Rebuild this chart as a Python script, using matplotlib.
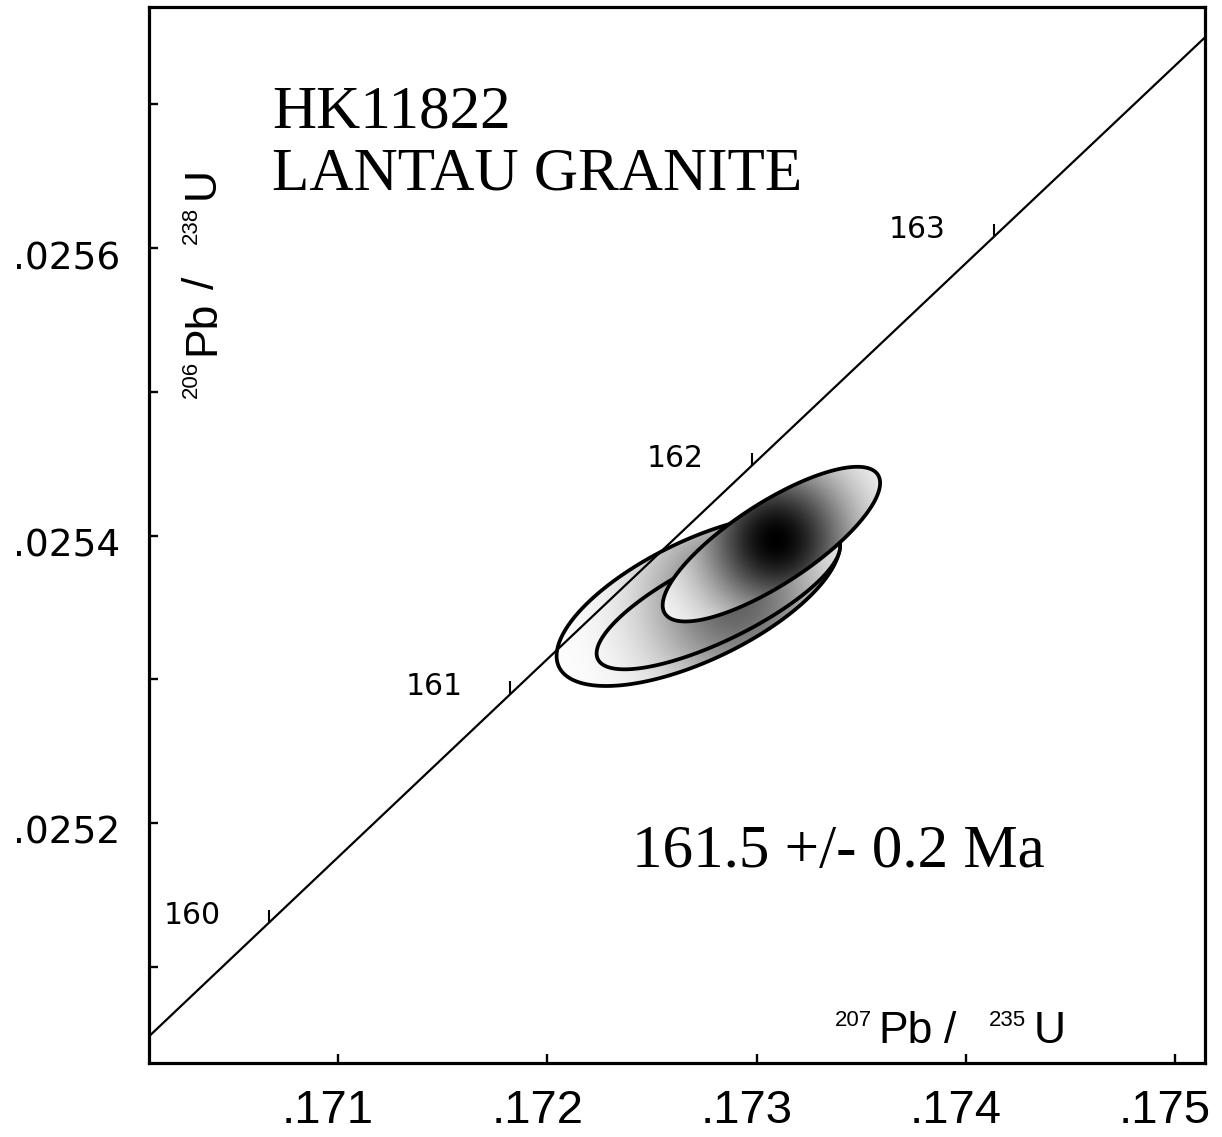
import numpy as np
import matplotlib
matplotlib.use("Agg")
import matplotlib.pyplot as plt
from matplotlib import font_manager
from matplotlib.patches import Polygon
from matplotlib.transforms import ScaledTranslation

# ---------------- data ----------------
X_TICKS = [0.171, 0.172, 0.173, 0.174, 0.175]
X_TICK_LABELS = [".171", ".172", ".173", ".174", ".175"]
Y_MAJOR_TICKS = [0.0252, 0.0254, 0.0256]
Y_TICK_LABELS = [".0252", ".0254", ".0256"]
Y_MINOR_TICKS = [0.0251, 0.0253, 0.0255, 0.0257]
X_LIM = (0.170097, 0.175143)
Y_LIM = (0.025033, 0.0257677)

# concordia (U-Pb decay constants, 1/yr) and age marks in Ma
LAMBDA_238 = 1.55125e-10
LAMBDA_235 = 9.8485e-10
CONCORDIA_AGE_RANGE = (158.0, 166.0)
CONCORDIA_TICK_AGES = [160, 161, 162, 163]

# analyses: centre, half-extent of the error ellipse, error correlation
ELL_X = [0.1727219, 0.1728175, 0.1730710]
ELL_XERR = [0.0006772, 0.0005816, 0.0005195]
ELL_Y = [0.0253551, 0.0253551, 0.0253940]
ELL_YERR = [0.0000598, 0.0000482, 0.0000538]
ELL_RHO = [0.65, 0.77, 0.79]

# shading centres of the ellipses
GRAD_X = [0.1728973, 0.1728973, 0.1730930]
GRAD_Y = [0.0253551, 0.0253551, 0.0253969]

TITLE_1 = "HK11822"
TITLE_2 = "LANTAU GRANITE"
AGE_TEXT = "161.5 +/- 0.2 Ma"
X_TITLE = ["207", "Pb", "/", "235", "U"]
Y_TITLE = ["206", "Pb", "/", "238", "U"]

# ---------------- style ----------------
GRAD_SIGMA_PX = [62, 62, 54]
GRAD_MAX = [0.62, 0.62, 1.0]


def have(name):
    try:
        font_manager.findfont(font_manager.FontProperties(family=name),
                              fallback_to_default=False)
        return True
    except Exception:
        return False


NARROW = "Liberation Sans Narrow" if have("Liberation Sans Narrow") else "Liberation Sans"
GEO = "DejaVu Sans"
SERIF = "Liberation Serif"

W, H, DPI = 1222, 1137, 100
fig = plt.figure(figsize=(W / DPI, H / DPI), dpi=DPI)
fig.patch.set_facecolor("white")
L, R, T, B = 149, 1205, 7, 1063
ax = fig.add_axes([L / W, 1 - B / H, (R - L) / W, (B - T) / H])
ax.set_xlim(X_LIM)
ax.set_ylim(Y_LIM)


def fig_px(x, y):
    return (x / W, 1 - y / H)


# ---------------- ellipses with shading ----------------
nx, ny = R - L, B - T
jj = np.arange(nx) + 0.5 + L
ii = np.arange(ny) + 0.5 + (H - B)
XD, YD = np.meshgrid(jj, ii)

theta = np.linspace(0, 2 * np.pi, 721)
for k in range(len(ELL_X)):
    x0, y0, sx, sy, rho = ELL_X[k], ELL_Y[k], ELL_XERR[k], ELL_YERR[k], ELL_RHO[k]
    ex = x0 + sx * np.cos(theta)
    ey = y0 + sy * (rho * np.cos(theta) + np.sqrt(1 - rho ** 2) * np.sin(theta))
    z = 2 + k * 0.5
    gx, gy = ax.transData.transform((GRAD_X[k], GRAD_Y[k]))
    D = GRAD_MAX[k] * np.exp(-((XD - gx) ** 2 + (YD - gy) ** 2) / (2 * GRAD_SIGMA_PX[k] ** 2))
    g = 1 - D
    rgb = np.dstack([g, g, g])
    im = ax.imshow(rgb, extent=(X_LIM[0], X_LIM[1], Y_LIM[0], Y_LIM[1]),
                   origin="lower", aspect="auto", interpolation="bilinear", zorder=z)
    patch = Polygon(np.column_stack([ex, ey]), closed=True, facecolor="none",
                    edgecolor="black", lw=2.7, zorder=z + 0.1)
    ax.add_patch(patch)
    im.set_clip_path(patch)

ax.set_xlim(X_LIM)
ax.set_ylim(Y_LIM)

# ---------------- concordia ----------------
t = np.linspace(CONCORDIA_AGE_RANGE[0], CONCORDIA_AGE_RANGE[1], 500) * 1e6
ax.plot(np.exp(LAMBDA_235 * t) - 1, np.exp(LAMBDA_238 * t) - 1,
        color="black", lw=1.6, zorder=6)
ta = np.array(CONCORDIA_TICK_AGES, dtype=float) * 1e6
tx = np.exp(LAMBDA_235 * ta) - 1
ty = np.exp(LAMBDA_238 * ta) - 1
ax.plot(tx, ty, linestyle="none", marker=2, markersize=9.4, mew=1.5,
        color="black", zorder=6)
for age, px_, py_ in zip(CONCORDIA_TICK_AGES, tx, ty):
    ax.annotate(str(age), (px_, py_), xytext=(-34.5, -0.7), textcoords="offset points",
                ha="right", va="baseline", fontsize=21.5, family=GEO, zorder=7)

# ---------------- axes styling ----------------
for s in ax.spines.values():
    s.set_linewidth(2.3)
ax.set_xticks(X_TICKS)
ax.set_xticklabels(X_TICK_LABELS, family=NARROW, fontsize=34)
ax.set_yticks(Y_MAJOR_TICKS)
ax.set_yticklabels(Y_TICK_LABELS, family=GEO, fontsize=27)
ax.set_yticks(Y_MINOR_TICKS, minor=True)
ax.tick_params(axis="both", which="both", direction="in", length=6.5, width=1.7,
               top=False, right=False)
ax.tick_params(axis="x", which="major", pad=19)
ax.tick_params(axis="y", which="both", pad=21)
for lbl in ax.get_xticklabels():
    lbl.set_transform(lbl.get_transform() + ScaledTranslation(-10 / DPI, 0, fig.dpi_scale_trans))
for lbl in ax.get_yticklabels():
    lbl.set_transform(lbl.get_transform() + ScaledTranslation(0, -7 / DPI, fig.dpi_scale_trans))

# ---------------- axis titles (composed with small superscripts) ----------------
BIG, SMALL = 32, 16
sizes = [SMALL, BIG, BIG, SMALL, BIG]
x_starts = [835, 878, 944, 989, 1034]
for txt, xp, fs in zip(X_TITLE, x_starts, sizes):
    yb = 1043 if fs == BIG else 1026
    fig.text(*fig_px(xp, yb), txt, fontsize=fs, family=NARROW, ha="left", va="baseline")

y_starts = [398, 355, 289, 244, 199]
for txt, yp, fs in zip(Y_TITLE, y_starts, sizes):
    xb = 214 if fs == BIG else 197
    fig.text(*fig_px(xb, yp), txt, fontsize=fs, family=NARROW, ha="left", va="baseline",
             rotation=90, rotation_mode="anchor")

# ---------------- annotations ----------------
fig.text(*fig_px(272, 128), TITLE_1, fontsize=44, family=SERIF, ha="left", va="baseline")
fig.text(*fig_px(272, 190), TITLE_2, fontsize=44, family=SERIF, ha="left", va="baseline")
fig.text(*fig_px(632, 867), AGE_TEXT, fontsize=44, family=SERIF, ha="left", va="baseline")

fig.savefig("out.png", dpi=DPI, facecolor="white")
